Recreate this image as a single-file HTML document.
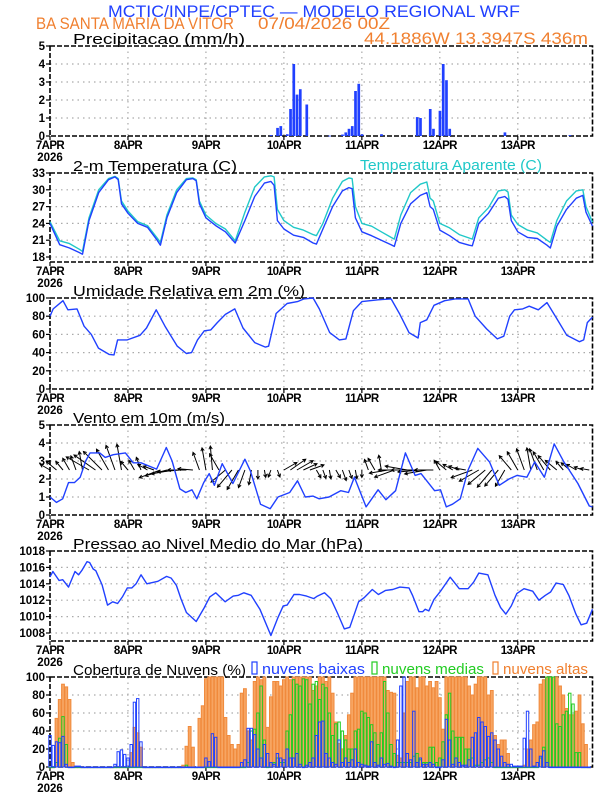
<!DOCTYPE html>
<html><head><meta charset="utf-8"><title>WRF meteogram</title>
<style>
html,body{margin:0;padding:0;background:#fff;}
svg{display:block;font-family:"Liberation Sans",sans-serif;}
.tk{font-size:11.5px;font-weight:bold;fill:#000;}
.pt{font-size:15px;fill:#000;}
</style></head>
<body>
<svg id="chart" width="612" height="792" viewBox="0 0 612 792" xmlns="http://www.w3.org/2000/svg">
<text x="108" y="17" font-size="17" fill="#2040ff" textLength="412" lengthAdjust="spacingAndGlyphs">MCTIC/INPE/CPTEC — MODELO REGIONAL WRF</text>
<text x="36" y="29" font-size="16.5" fill="#f08030" textLength="198" lengthAdjust="spacingAndGlyphs">BA SANTA MARIA DA VITOR</text>
<text x="258" y="29" font-size="16.5" fill="#f08030" textLength="132" lengthAdjust="spacingAndGlyphs">07/04/2026 00Z</text>
<text x="364" y="44" font-size="16.5" fill="#f08030" textLength="224" lengthAdjust="spacingAndGlyphs">44.1886W 13.3947S 436m</text>
</svg>
<script>
// ---------- data ----------
const xMaxHour = 167;
const dayLabels = ["7APR","8APR","9APR","10APR","11APR","12APR","13APR"];
// precipitation (mm/h), sparse hours
const precipHours = [68,70,71,73,74,75,76,77,79,86,90,91,92,93,94,95,96,102,113,114,117,118,120,121,122,123,140,160];
const precipValues = [0.05,0.45,0.55,0.1,1.5,4.0,2.3,2.6,1.75,0.02,0.08,0.2,0.4,0.55,2.5,2.9,0.1,0.1,1.05,1.0,1.5,0.4,1.4,4.0,3.1,0.4,0.2,0.05];
const precipTicks = [0,1,2,3,4,5];
// temperature
const tempHours = [0,3,6,9,10,12,15,18,20,21,22,24,27,30,33,34,36,39,42,44,45,46,48,51,54,57,60,63,66,68,69,70,72,75,78,81,82,84,87,90,92,93,94,96,99,102,105,106,108,111,114,116,117,118,120,123,126,129,130,132,135,138,140,141,142,144,147,150,153,154,156,159,162,164,165,167];
const tempValues = [24,20.2,19.6,18.8,18.5,24.5,29.5,31.8,32.3,31.8,27.5,25.8,24,23.3,21,20.1,25,29.5,31.8,32,31.6,27.5,25,23.6,22.5,20.5,24.5,28.8,31.2,31.5,30.8,24.5,23,21.9,21.5,20.5,20.3,23,27,29.8,30.4,30.2,25,22.5,21.8,21,20.2,19.9,24,27.5,29,29.5,27,26.5,22.8,21.8,20.6,20.1,20,24,25.8,28.5,28.8,28.3,24.5,22.5,21.5,21.3,20.1,19.6,23.5,26.5,28.5,29,26,23.5];
const appValues = [24.3,20.9,20.4,19.4,19,25,30,32,32.4,32,28,26.2,24.3,23.6,21.4,20.6,25.5,30,32,32.1,31.8,28,25.5,24,23,20.9,26,30.5,32.3,32.5,32.3,26.5,24.5,23.3,22.8,22,21.8,24,28.5,31.5,32.1,32,27,24,23.5,22.5,21.5,21.2,25.5,29.5,31,31.4,28.5,28,24,23.2,22,21.4,21.2,25,26.8,29.8,30,29.6,25.5,23.8,22.8,22.3,21,20.6,24.5,28,29.8,30,27,24.2];
const tempTicks = [18,21,24,27,30,33];
// relative humidity
const rhHours = [0,1,4,5.5,8.3,10.5,12.7,14.9,18.2,19.7,20.8,23.8,27.7,29.7,32.7,35.4,39.2,42,43.6,45.4,47.5,49.5,51.5,54,56.9,59.4,63,66.3,67.3,69.6,73,76.2,78.2,81,82.9,86.1,89.1,91.1,93.4,96,101,105,107.7,110.5,113.3,114,116,118.2,121.5,124.7,128.7,130.9,134.4,137.7,139.7,141.5,143,145.5,147.5,150.3,153,155.9,159.1,163,164.3,165.4,167];
const rhValues = [80,88,97,87,88,69,60,45,38,37.5,54,54,59,67,87,69,47,39,40,54,64,65,73,82,88,67,51,46,47,83,94,96,99,100,88,62,54,55,86,96,98,99,82,62,56,73,76,92,97,99,99,80,66,55,58,80,87,88,91,87,95,78,59,52,54,73,79];
const rhTicks = [0,20,40,60,80,100];
// wind speed
const windHours = [0,2,3.9,5.7,7.5,9.3,11,12.3,15.3,17,19.5,23.2,25.6,28,32.8,35.8,37.6,40,41.8,43.7,45.2,47.3,49,50.6,53,56.3,60,61.7,64.8,67.8,70.2,73.8,76.2,78.6,81,82.8,85.9,89.5,91.9,93.7,97.3,101,103.4,106.4,109.4,112.4,114.2,118.4,120.2,122,123.9,126.3,128.7,131.7,135.3,138.3,141.3,143.8,146.8,149.2,152.2,155.2,158.2,162.5,166,167];
const windValues = [1.0,0.7,0.9,1.8,1.8,2.1,3.0,3.45,3.45,3.2,3.35,3.45,2.9,2.9,2.55,3.75,3.0,1.45,1.25,1.4,0.9,1.8,2.3,1.65,2.85,1.75,3.1,2.45,0.6,0.35,1.0,1.25,1.9,1.0,1.05,0.9,1.0,1.35,1.25,2.1,0.45,1.4,0.85,1.35,3.45,2.2,2.3,1.35,1.4,0.45,0.6,0.9,2.5,3.7,2.95,1.65,2.0,2.2,2.1,2.95,2.1,3.95,2.95,1.75,0.5,0.45];
const windTicks = [0,1,2,3,4,5];
// wind vectors every 2 h (direction deg, magnitude)
const arrowDir = [150,140,130,120,110,100, 150,145,135,120,110,100, 130,120,110,150,160, 200,195,190,185,180,175, 110,100,95,120, 220,230,240,250,260, 270,280,250,290, 30,35,30,25,20,300,290,280, 300,290,290,280,270, 110,120,100,190,200,180, 170,180,185,190,180, 120,140,150,160,170, 200,210,220,230,230,240, 130,120,110,100,110,120,130,140, 130,140,150,160,170];
const arrowMag = [1.5,1.8,1.5,1.8,2,2.5, 3.5,3.5,3.5,3.2,3.5,3.5, 1.5,1.5,1.8,1.5,1.5, 3,3,3,3,2.5,2, 2.5,3,3.2,2.5, 2.5,3,3,2.5,2, 1.2,1,1,1, 2,2.5,2.5,2,2,1.2,1.2,1.2, 1.2,1.5,1.2,1.2,1, 1.5,1.8,2,2.5,2.8,3, 3,3,3,3,2.5, 1.5,1.8,1.5,1.5,1.5, 3,3,3,3,2.8,2.5, 2.5,2.8,3,3,3,2.8,2.5,2, 1.5,1.5,1.5,1.2,1.2];
// pressure
const presHours = [0,0.9,2.8,3.9,5.7,7.7,8.8,9.9,11.4,12.2,13.3,14.1,16,17.7,19.3,20.8,22.3,23.8,25.2,26.5,28,29.8,32,33.2,35.9,37.3,38.9,40.3,42,45,47.5,49.2,51,53.9,56.4,58,59.7,61.9,64.6,68,70.2,71.8,73,75.1,76.8,79,81.2,82.3,84.5,86.4,88.4,90.6,92.3,95,96.7,99.2,101.1,103.3,105.5,107.7,110.5,111.6,113.6,114.7,115.5,116.6,118.2,120.4,123.2,126,128.7,130.4,132,134.8,137,138.7,140.3,142,143.7,145.9,148.6,150.5,152.5,154.1,155.8,158,159.7,161.9,163.5,165.2,167];
const presValues = [1014.85,1015.5,1014.4,1014.5,1013.6,1015.5,1015.1,1015.7,1016.7,1016.6,1015.8,1015.6,1013.9,1011.4,1011.8,1011.6,1012.4,1013.5,1013.5,1014,1015.1,1014,1014.2,1014.3,1014.9,1014.7,1013.8,1012.2,1010.5,1009.4,1011.1,1012.4,1012.9,1011.8,1012.5,1012.6,1012.9,1012.6,1010.9,1007.7,1009.9,1011.3,1011.4,1012.7,1012.7,1012.5,1012.2,1012.5,1012.9,1012.2,1010.5,1008.5,1008.7,1011.8,1012.3,1013.3,1012.7,1013.2,1013.3,1013.6,1013.5,1012.6,1010.6,1010.6,1010.9,1010.7,1012.1,1013.2,1014.8,1013.4,1013.4,1014.2,1015.3,1015.1,1012.6,1011.1,1010.3,1011.3,1012.8,1013.4,1013.1,1012.0,1012.6,1013,1014.1,1013.9,1012.6,1010.3,1009,1009.2,1010.9];
const presTicks = [1008,1010,1012,1014,1016,1018];
// clouds (%), hourly h0..h166
const cloudHigh = [0,0,54,75,92,89,75,5,0,0,0,0,0,0,0,0,0,0,0,0,0,0,0,0,0,16,44,38,22,0,0,0,0,0,0,0,0,0,0,0,0,2,23,45,22,0,54,68,98,100,100,100,100,100,55,35,25,20,25,82,87,40,30,95,100,97,100,44,78,95,95,90,97,100,97,100,100,100,100,100,100,85,90,100,100,95,100,82,50,26,20,35,58,82,100,100,100,100,100,100,100,100,100,100,85,83,82,13,10,60,95,100,100,88,100,100,90,95,88,95,77,42,100,100,100,100,100,100,100,90,80,92,100,100,100,80,85,35,25,30,30,15,0,0,0,0,2,20,30,47,50,92,97,100,100,100,100,90,80,65,58,58,62,80,48,25,0];
const cloudMid = [0,0,5,32,56,25,0,0,0,0,0,0,0,0,0,0,0,0,0,0,0,0,0,0,0,0,0,0,0,0,0,0,0,0,0,0,0,0,0,0,0,0,2,0,0,0,0,0,0,0,0,0,0,0,0,0,0,0,0,0,0,5,40,42,60,90,30,0,5,5,10,5,5,40,58,97,92,90,98,97,70,92,95,75,92,88,60,35,48,50,40,30,20,20,40,42,62,60,55,47,38,25,38,95,60,25,15,5,5,5,5,5,12,15,8,5,5,22,22,5,10,28,58,82,40,33,33,33,20,20,10,2,2,5,8,10,5,0,0,0,0,0,0,0,0,0,0,0,0,0,0,10,22,100,100,100,48,45,58,62,82,70,16,16,0,0,0];
const cloudLow = [35,24,28,27,34,3,0,0,1,1,0,0,0,0,0,0,0,0,0,0,3,17,19,14,10,25,72,76,28,0,0,0,0,0,0,0,0,0,0,0,0,0,0,0,0,0,0,0,10,6,37,33,0,0,0,0,0,0,0,5,8,43,43,36,20,10,25,15,5,3,15,10,8,20,10,10,15,3,0,2,5,10,35,50,51,15,10,5,3,30,5,10,5,8,20,5,3,2,1,28,5,2,10,3,4,1,0,30,90,100,15,8,62,5,10,3,3,5,3,0,0,8,53,30,3,10,5,2,2,8,33,38,55,50,45,34,38,30,20,12,5,3,3,1,1,1,32,62,20,1,5,12,18,5,0,0,0,0,0,0,0,0,0,0,0,0,0];
const cloudTicks = [0,20,40,60,80,100];

// ---------- drawing ----------
const NS = "http://www.w3.org/2000/svg";
const svg = document.getElementById("chart");
const X0 = 50, X1 = 592.5;
function xs(h){ return X0 + h*(X1-X0)/xMaxHour; }
function mk(tag, attrs, parent){
  const e = document.createElementNS(NS, tag);
  for (const k in attrs) e.setAttribute(k, attrs[k]);
  (parent||svg).appendChild(e);
  return e;
}
function makeAxis(top, bottom, vTop, vBottom){
  return v => bottom - (v - vBottom)*(bottom-top)/(vTop - vBottom);
}
function drawFrame(name, top, bottom, ys, ticks, title, titleLen){
  const g = mk("g", {});
  
  
  ticks.forEach(t => {
    const y = ys(t);
    if (y > top+1 && y < bottom-1) {
      const l = mk("line", {x1:X0, x2:X1, y1:y, y2:y, stroke:"#aaa", "stroke-dasharray":"1.5,4", "stroke-width":1.2}, g);
      
      
    }
    const tl = mk("line", {x1:X0-4, x2:X0, y1:y, y2:y, stroke:"#000", "stroke-width":1.2}, g);
    
    
    const tx = mk("text", {x:X0-5, y:y+4, "text-anchor":"end", class:"tk"}, g);
    tx.textContent = t;
    
    
  });
  dayLabels.forEach((d, i) => {
    const x = xs(i*24);
    if (i > 0) {
      const l = mk("line", {x1:x, x2:x, y1:top, y2:bottom, stroke:"#aaa", "stroke-dasharray":"1.5,4", "stroke-width":1.2}, g);
      
      
    }
    const tl = mk("line", {x1:x, x2:x, y1:bottom, y2:bottom+4, stroke:"#000", "stroke-width":1.2}, g);
    
    
    const tx = mk("text", {x:x, y:bottom+13, "text-anchor":"middle", class:"tk", "letter-spacing":"-0.6"}, g);
    tx.textContent = d;
    
    
  });
  const yr = mk("text", {x:X0, y:bottom+25, "text-anchor":"middle", class:"tk"}, g);
  yr.textContent = "2026";
  
  
  const fr = mk("rect", {x:X0, y:top, width:X1-X0, height:bottom-top, fill:"none", stroke:"#000", "stroke-width":1.6, "stroke-dasharray":"5,2"}, g);
  
  
  const tt = mk("text", {x:73, y:top-2, class:"pt", textLength:titleLen, lengthAdjust:"spacingAndGlyphs"}, g);
  tt.textContent = title;
  
  
  return g;
}
function line(hours, vals, ys, color, name, g){
  const d = hours.map((h,i) => (i?"L":"M") + xs(h).toFixed(1) + "," + ys(vals[i]).toFixed(1)).join("");
  const p = mk("path", {d:d, fill:"none", stroke:color, "stroke-width":1.4, "stroke-linejoin":"round"}, g);
  
  
  return p;
}

// Panel 1: precipitation
const yP = makeAxis(46, 136, 5, 0);
const gP = drawFrame("precip", 46, 136, yP, precipTicks, "Precipitacao (mm/h)", 172);
precipHours.forEach((h, i) => {
  const y = yP(precipValues[i]);
  const r = mk("rect", {x:xs(h)-1.2, y:y, width:2.7, height:Math.max(0.8, 136-y), fill:"#2040ff"}, gP);
  
  
});

// Panel 2: temperature
const yT = makeAxis(173, 257, 33, 18);
const gT = drawFrame("temperature", 173, 262, yT, tempTicks, "2-m Temperatura (C)", 164);
line(tempHours, appValues, yT, "#20c8c8", "apparent-temperature-line", gT);
line(tempHours, tempValues, yT, "#2040ff", "temperature-line", gT);
const at = mk("text", {x:360, y:170, "font-size":"15", textLength:182, lengthAdjust:"spacingAndGlyphs"}, gT);
at.textContent = "Temperatura Aparente (C)";


at.setAttribute('style', 'fill:#20c8c8');

// Panel 3: humidity
const yH = makeAxis(298, 389, 100, 0);
const gH = drawFrame("humidity", 298, 389, yH, rhTicks, "Umidade Relativa em 2m (%)", 232);
line(rhHours, rhValues, yH, "#2040ff", "humidity-line", gH);

// Panel 4: wind
const yW = makeAxis(425, 515, 5, 0);
const gW = drawFrame("wind", 425, 515, yW, windTicks, "Vento em 10m (m/s)", 152);
arrowDir.forEach((a, i) => {
  const h = i*2;
  const x0 = xs(h), y0 = yW(2.5);
  const rad = a*Math.PI/180, L = arrowMag[i]*7.5;
  const x1 = x0 + L*Math.cos(rad), y1 = y0 - L*Math.sin(rad);
  const hl = 3.5;
  const ax1 = x1 - hl*Math.cos(rad-0.5), ay1 = y1 + hl*Math.sin(rad-0.5);
  const ax2 = x1 - hl*Math.cos(rad+0.5), ay2 = y1 + hl*Math.sin(rad+0.5);
  const p = mk("path", {d:`M${x0},${y0}L${x1},${y1}M${ax1},${ay1}L${x1},${y1}L${ax2},${ay2}`, fill:"none", stroke:"#000", "stroke-width":1}, gW);
  
  
});
line(windHours, windValues, yW, "#2040ff", "wind-speed-line", gW);

// Panel 5: pressure
const yS = makeAxis(551, 633, 1018, 1008);
const gS = drawFrame("pressure", 551, 641, yS, presTicks, "Pressao ao Nivel Medio do Mar (hPa)", 290);
line(presHours, presValues, yS, "#2040ff", "pressure-line", gS);

// Panel 6: clouds
const yC = makeAxis(677, 767, 100, 0);
const gC = drawFrame("clouds", 677, 767, yC, cloudTicks, "Cobertura de Nuvens (%)", 173);
function cloudBars(vals, fill, stroke, name, w){
  vals.forEach((v, h) => {
    const y = yC(v);
    const r = mk("rect", {x:xs(h)-w/2, y:y, width:w, height:Math.max(0.6, 767-y), fill:fill, stroke:stroke, "stroke-width":1}, gC);
    
    
  });
}
cloudBars(cloudHigh, "#f7a562", "#f08a3c", "high-cloud-bar", 2.8);
cloudBars(cloudMid, "none", "#22cc22", "mid-cloud-bar", 2.4);
cloudBars(cloudLow, "none", "#2040ff", "low-cloud-bar", 2.4);
const legends = [["nuvens baixas","#2040ff",252,103],["nuvens medias","#22cc22",372,102],["nuvens altas","#f08030",493,85]];
legends.forEach(l => {
  const b = mk("rect", {x:l[2], y:662, width:5, height:12, fill:"none", stroke:l[1], "stroke-width":1.2}, gC);
  
  
  const t = mk("text", {x:l[2]+10, y:674, "font-size":"15", fill:l[1], textLength:l[3], lengthAdjust:"spacingAndGlyphs"}, gC);
  t.textContent = l[0];
  
  
});
</script>
</body></html>
